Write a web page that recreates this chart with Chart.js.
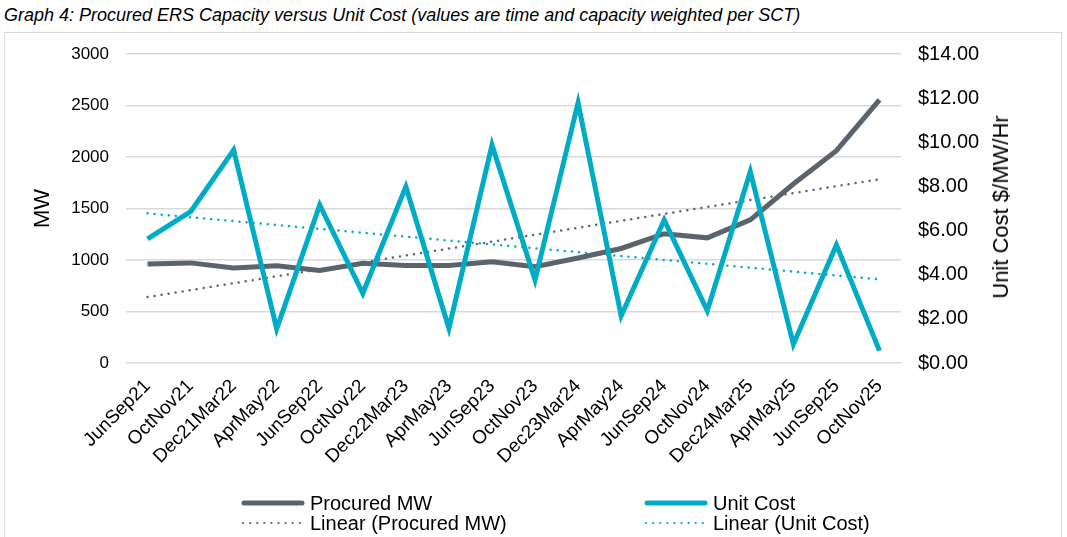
<!DOCTYPE html>
<html>
<head>
<meta charset="utf-8">
<script src="https://cdn.jsdelivr.net/npm/chart.js@4.4.1/dist/chart.umd.min.js"></script>
<style>
  body { margin: 0; background: #fff; }
  #wrap { position: relative; width: 1067px; height: 537px; overflow: hidden; font-family: "Liberation Sans", Arial, sans-serif; }
  #title { position: absolute; left: 4px; top: 5px; font-style: italic; font-size: 18px; color: #000; white-space: nowrap; }
  #frame { position: absolute; left: 4px; top: 32px; width: 1058px; height: 520px; border: 1px solid #d9d9d9; box-sizing: border-box; }
  canvas { position: absolute; left: 0; top: 0; }
  #ytitle2 { position: absolute; left: 1001px; top: 207px; transform: translate(-50%, -50%) rotate(-90deg); font-size: 22px; color: #000; white-space: nowrap; }
  .leg { position: absolute; display: flex; align-items: center; font-size: 20px; color: #000; white-space: nowrap; height: 20px; }
  .leg svg { margin-right: 4px; }
</style>
</head>
<body>
<div id="wrap">
  <div id="title">Graph 4: Procured ERS Capacity versus Unit Cost (values are time and capacity weighted per SCT)</div>
  <div id="frame"></div>
  <canvas id="chart" width="1067" height="537"></canvas>
  <div id="ytitle2">Unit Cost $/MW/Hr</div>
  <div id="legend"></div>
</div>
<script>
// categories
var periods = ["JunSep21", "OctNov21", "Dec21Mar22", "AprMay22", "JunSep22", "OctNov22",
    "Dec22Mar23", "AprMay23", "JunSep23", "OctNov23", "Dec23Mar24", "AprMay24",
    "JunSep24", "OctNov24", "Dec24Mar25", "AprMay25", "JunSep25", "OctNov25"];

// Procured MW (left axis)
var procuredMW = [962, 972, 923, 945, 898, 968, 947, 947, 982, 935, 1020, 1112,
    1255, 1215, 1390, 1738, 2062, 2555];

// Unit cost $/MW/Hr (right axis)
var unitCost = [5.62, 6.86, 9.65, 1.55, 7.16, 3.16, 7.99, 1.57, 9.88, 3.76, 11.79, 2.13,
    6.48, 2.37, 8.67, 0.85, 5.35, 0.56];

// linear trend end points (first and last period)
var trendMW = [640, 1784];
var trendCost = [6.78, 3.79];

// axis ticks
var mwMax = 3000, mwStep = 500;
var costMax = 14, costStep = 2;

var greyCol = "#5b646c";
var tealCol = "#00abc6";
var gridCol = "#d9d9d9";

function endPoints(vals) {
    return [{x: periods[0], y: vals[0]}, {x: periods[periods.length - 1], y: vals[1]}];
}

var ctx = document.getElementById("chart").getContext("2d");
var chart = new Chart(ctx, {
    type: "line",
    data: {
        labels: periods,
        datasets: [{
            label: "Unit Cost",
            data: unitCost,
            yAxisID: "yCost",
            borderColor: tealCol,
            borderWidth: 5,
            pointRadius: 0,
            tension: 0
        }, {
            label: "Procured MW",
            data: procuredMW,
            yAxisID: "yMW",
            borderColor: greyCol,
            borderWidth: 5,
            pointRadius: 0,
            tension: 0
        }, {
            label: "Linear (Procured MW)",
            data: endPoints(trendMW),
            yAxisID: "yMW",
            borderColor: "#5f6770",
            borderWidth: 2.5,
            borderDash: [0.1, 7],
            borderCapStyle: "round",
            pointRadius: 0
        }, {
            label: "Linear (Unit Cost)",
            data: endPoints(trendCost),
            yAxisID: "yCost",
            borderColor: tealCol,
            borderWidth: 2.5,
            borderDash: [0.1, 7],
            borderCapStyle: "round",
            pointRadius: 0
        }]
    },
    options: {
        responsive: false,
        animation: false,
        layout: { padding: { top: 54, left: 0, right: 0, bottom: 0 } },
        plugins: { legend: { display: false }, tooltip: { enabled: false } },
        scales: {
            x: {
                offset: true,
                grid: { display: false, drawTicks: false },
                border: { display: false },
                ticks: {
                    color: "#000",
                    font: { family: "Liberation Sans", size: 19 },
                    minRotation: 45,
                    maxRotation: 45,
                    padding: 12,
                    autoSkip: false
                },
                afterFit: function (scale) { scale.height = 537 - 363; }
            },
            yMW: {
                position: "left",
                min: 0,
                max: mwMax,
                grid: { color: gridCol, lineWidth: 1.5, drawTicks: false },
                border: { display: false },
                ticks: {
                    stepSize: mwStep,
                    color: "#000",
                    font: { family: "Liberation Sans", size: 17 },
                    padding: 17,
                    callback: function (v) { return String(v); }
                },
                title: {
                    display: true,
                    text: "MW",
                    color: "#000",
                    font: { family: "Liberation Sans", size: 22 },
                    padding: { top: 30 }
                },
                afterFit: function (scale) { scale.width = 126; }
            },
            yCost: {
                position: "right",
                min: 0,
                max: costMax,
                grid: { display: false, drawTicks: false },
                border: { display: false },
                ticks: {
                    stepSize: costStep,
                    color: "#000",
                    font: { family: "Liberation Sans", size: 20 },
                    padding: 17,
                    callback: function (v) { return "$" + v.toFixed(2); }
                },
                afterFit: function (scale) { scale.width = 1067 - 901; }
            }
        }
    }
});

// legend, two columns like the original
var legendItems = [
    { text: "Procured MW", color: greyCol, dotted: false, x: 240, y: 493 },
    { text: "Unit Cost", color: tealCol, dotted: false, x: 643, y: 493 },
    { text: "Linear (Procured MW)", color: "#5f6770", dotted: true, x: 240, y: 513 },
    { text: "Linear (Unit Cost)", color: tealCol, dotted: true, x: 643, y: 513 }
];
var legendBox = document.getElementById("legend");
legendItems.forEach(function (it) {
    var div = document.createElement("div");
    div.className = "leg";
    div.style.left = it.x + "px";
    div.style.top = it.y + "px";
    var line = it.dotted
        ? '<line x1="3" y1="10" x2="63" y2="10" stroke="' + it.color + '" stroke-width="2.2" stroke-linecap="round" stroke-dasharray="0.1 7"/>'
        : '<line x1="4" y1="10" x2="62" y2="10" stroke="' + it.color + '" stroke-width="5" stroke-linecap="round"/>';
    div.innerHTML = '<svg width="66" height="20">' + line + '</svg><span>' + it.text + '</span>';
    legendBox.appendChild(div);
});
</script>
</body>
</html>
